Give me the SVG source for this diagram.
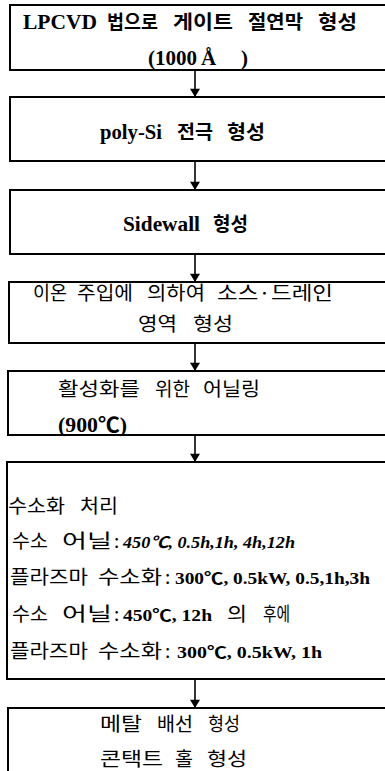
<svg xmlns="http://www.w3.org/2000/svg" width="385" height="771" viewBox="0 0 385 771">
<style>
.box{fill:none;stroke:#000;stroke-width:2}
.con{stroke:#000;stroke-width:1.6;fill:none}
.t{font-family:"Liberation Serif","Noto Sans CJK KR",serif;font-size:21px;font-weight:bold;fill:#000}
.s{font-family:"Liberation Serif","Noto Sans CJK KR",serif;font-size:16px;font-weight:bold;fill:#000}
.k{font-family:"Noto Sans CJK KR",sans-serif;font-size:19px;fill:#000}
.kb{font-family:"Noto Sans CJK KR",sans-serif;font-size:19px;font-weight:bold;fill:#000}
.i{font-style:italic}
</style>
<defs>
<marker id="ah" viewBox="0 0 10 12" refX="10" refY="6" markerWidth="12" markerHeight="10" markerUnits="userSpaceOnUse" orient="auto">
<path d="M0,0 L10,6 L0,12 Z" fill="#000"/>
</marker>
</defs>
<g id="connectors">
<line class="con" x1="195" y1="70" x2="195" y2="97" marker-end="url(#ah)"/>
<line class="con" x1="195" y1="161" x2="195" y2="190" marker-end="url(#ah)"/>
<line class="con" x1="195" y1="254" x2="195" y2="282" marker-end="url(#ah)"/>
<line class="con" x1="195" y1="343" x2="195" y2="371" marker-end="url(#ah)"/>
<line class="con" x1="195" y1="435" x2="195" y2="462" marker-end="url(#ah)"/>
<line class="con" x1="195" y1="679" x2="195" y2="708" marker-end="url(#ah)"/>
</g>
<g id="n1">
<path class="box" d="M385,5 H10 V70 H385"/>
<text class="t" x="23" y="29" textLength="74" lengthAdjust="spacingAndGlyphs">LPCVD</text>
<text class="kb" x="107" y="29" textLength="51" lengthAdjust="spacingAndGlyphs">법으로</text>
<text class="kb" x="173" y="29" textLength="60" lengthAdjust="spacingAndGlyphs">게이트</text>
<text class="kb" x="248" y="29" textLength="55" lengthAdjust="spacingAndGlyphs">절연막</text>
<text class="kb" x="318" y="29" textLength="39" lengthAdjust="spacingAndGlyphs">형성</text>
<text class="t" x="148" y="65">(1000</text>
<text class="t" x="201" y="65">Å</text>
<text class="t" x="241" y="65">)</text>
</g>
<g id="n2">
<path class="box" d="M385,97 H10 V161 H385"/>
<text class="t" x="100" y="139" textLength="62" lengthAdjust="spacingAndGlyphs">poly-Si</text>
<text class="kb" x="177" y="139" textLength="36" lengthAdjust="spacingAndGlyphs">전극</text>
<text class="kb" x="227" y="139" textLength="38" lengthAdjust="spacingAndGlyphs">형성</text>
</g>
<g id="n3">
<path class="box" d="M385,190 H10 V254 H385"/>
<text class="t" x="123" y="231" textLength="77" lengthAdjust="spacingAndGlyphs">Sidewall</text>
<text class="kb" x="213" y="231" textLength="35" lengthAdjust="spacingAndGlyphs">형성</text>
</g>
<g id="n4">
<path class="box" d="M385,282 H9 V343 H385"/>
<text class="k" x="33" y="300" textLength="34" lengthAdjust="spacingAndGlyphs">이온</text>
<text class="k" x="77" y="300" textLength="56" lengthAdjust="spacingAndGlyphs">주입에</text>
<text class="k" x="147" y="300" textLength="58" lengthAdjust="spacingAndGlyphs">의하여</text>
<text class="k" x="217" y="300" textLength="116" lengthAdjust="spacingAndGlyphs">소스·드레인</text>
<text class="k" x="138" y="331" textLength="39" lengthAdjust="spacingAndGlyphs">영역</text>
<text class="k" x="193" y="331" textLength="40" lengthAdjust="spacingAndGlyphs">형성</text>
</g>
<g id="n5">
<path class="box" d="M385,371 H8 V435 H385"/>
<text class="k" x="58" y="396" textLength="82" lengthAdjust="spacingAndGlyphs">활성화를</text>
<text class="k" x="155" y="396" textLength="35" lengthAdjust="spacingAndGlyphs">위한</text>
<text class="k" x="203" y="396" textLength="57" lengthAdjust="spacingAndGlyphs">어닐링</text>
<text class="t" x="58" y="432" textLength="69" lengthAdjust="spacingAndGlyphs">(900℃)</text>
</g>
<g id="n6">
<path class="box" d="M385,462 H7 V679 H385"/>
<text class="k" x="8" y="513" textLength="57" lengthAdjust="spacingAndGlyphs">수소화</text>
<text class="k" x="80" y="513" textLength="38" lengthAdjust="spacingAndGlyphs">처리</text>
<text class="k" x="12" y="548" textLength="36" lengthAdjust="spacingAndGlyphs">수소</text>
<text class="k" x="62" y="548" textLength="50" lengthAdjust="spacingAndGlyphs">어닐</text>
<text class="k" x="114" y="548">:</text>
<text class="s i" x="123" y="548" textLength="172" lengthAdjust="spacingAndGlyphs">450℃, 0.5h,1h, 4h,12h</text>
<text class="k" x="10" y="584" textLength="78" lengthAdjust="spacingAndGlyphs">플라즈마</text>
<text class="k" x="98" y="584" textLength="64" lengthAdjust="spacingAndGlyphs">수소화</text>
<text class="k" x="165" y="584">:</text>
<text class="s" x="175" y="584" textLength="195" lengthAdjust="spacingAndGlyphs">300℃, 0.5kW, 0.5,1h,3h</text>
<text class="k" x="12" y="621" textLength="36" lengthAdjust="spacingAndGlyphs">수소</text>
<text class="k" x="62" y="621" textLength="50" lengthAdjust="spacingAndGlyphs">어닐</text>
<text class="k" x="114" y="621">:</text>
<text class="s" x="123" y="621" textLength="89" lengthAdjust="spacingAndGlyphs">450℃, 12h</text>
<text class="k" x="227" y="621" textLength="20" lengthAdjust="spacingAndGlyphs">의</text>
<text class="k" x="263" y="621" textLength="27" lengthAdjust="spacingAndGlyphs">후에</text>
<text class="k" x="10" y="658" textLength="78" lengthAdjust="spacingAndGlyphs">플라즈마</text>
<text class="k" x="98" y="658" textLength="64" lengthAdjust="spacingAndGlyphs">수소화</text>
<text class="k" x="165" y="658">:</text>
<text class="s" x="177" y="658" textLength="145" lengthAdjust="spacingAndGlyphs">300℃, 0.5kW, 1h</text>
</g>
<g id="n7">
<path class="box" d="M385,708 H8 V771"/>
<text class="k" x="100" y="731" textLength="42" lengthAdjust="spacingAndGlyphs">메탈</text>
<text class="k" x="157" y="731" textLength="36" lengthAdjust="spacingAndGlyphs">배선</text>
<text class="k" x="208" y="731" textLength="32" lengthAdjust="spacingAndGlyphs">형성</text>
<text class="k" x="100" y="766" textLength="63" lengthAdjust="spacingAndGlyphs">콘택트</text>
<text class="k" x="175" y="766" textLength="18" lengthAdjust="spacingAndGlyphs">홀</text>
<text class="k" x="207" y="766" textLength="40" lengthAdjust="spacingAndGlyphs">형성</text>
</g>
</svg>
